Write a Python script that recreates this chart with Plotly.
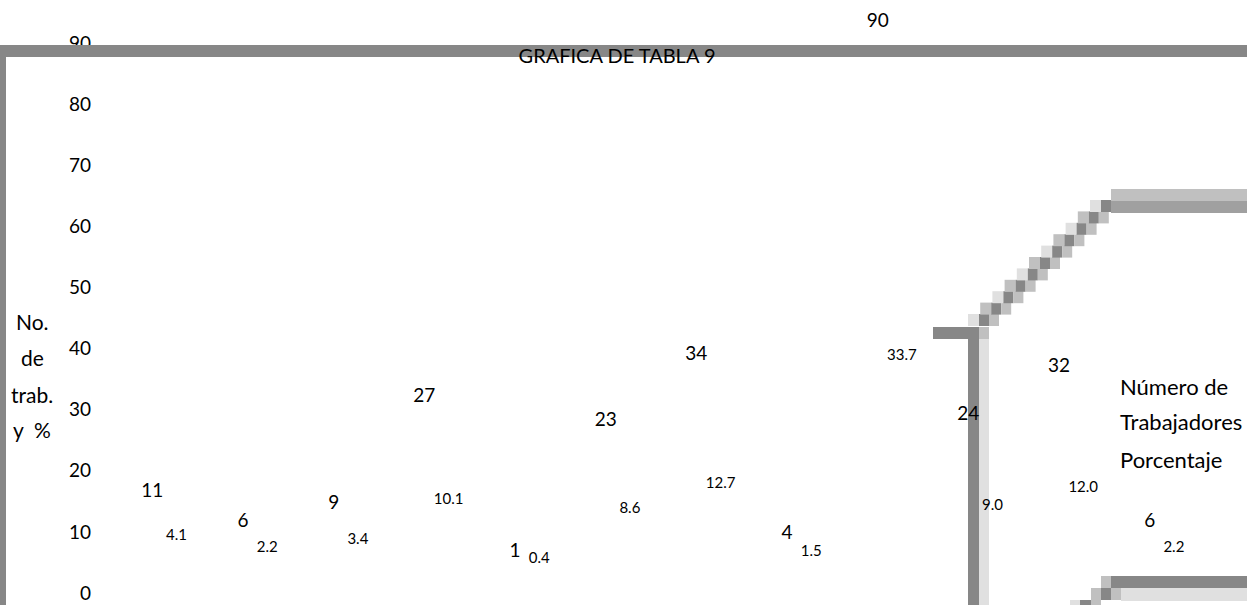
import plotly.graph_objects as go

# ---- data ----
categorias = list(range(1, 13))
trabajadores = [11, 6, 9, 27, 1, 23, 34, 4, 90, 24, 32, 6]
porcentaje = [4.1, 2.2, 3.4, 10.1, 0.4, 8.6, 12.7, 1.5, 33.7, 9.0, 12.0, 2.2]
y_ticks = [0, 10, 20, 30, 40, 50, 60, 70, 80, 90]

# ---- page geometry (pixels) ----
W, H = 1247, 605
ML, MR, MT, MB = 119, 40, 0, 12
PW, PH = W - ML - MR, H - MT - MB
BASE = H - MB          # pixel row of the value axis zero
TOP90 = 43             # pixel row of the 90 tick
UNIT = (BASE - TOP90) / 90.0

FONT = "Lato, Open Sans, sans-serif"
DARK, MID, LIGHT_MID, LIGHT = "#878787", "#a0a0a0", "#c0c0c0", "#e0e0e0"


def px(x):
    return (x - ML) / PW


def py(y):
    return (H - MB - y) / PH


def label_range(zero_row, px_per_unit):
    """Range for a hidden label axis whose zero sits on pixel row zero_row."""
    lo = -(BASE - zero_row) / px_per_unit
    return [lo, lo + PH / px_per_unit]


pos = [c - 1 for c in categorias]

fig = go.Figure()

# bars (unfilled, as in the printed chart)
fig.add_trace(go.Bar(x=pos, y=trabajadores, name="Número de Trabajadores",
                     marker=dict(color="rgba(0,0,0,0)", line=dict(width=0)),
                     showlegend=False, hoverinfo="skip"))
fig.add_trace(go.Bar(x=pos, y=porcentaje, name="Porcentaje",
                     marker=dict(color="rgba(0,0,0,0)", line=dict(width=0)),
                     showlegend=False, hoverinfo="skip"))

# data labels, placed on their own label scales
fig.add_trace(go.Scatter(x=[p - 0.132 for p in pos], y=trabajadores, yaxis="y2",
                         mode="text", text=[str(v) for v in trabajadores],
                         textposition="middle center", cliponaxis=False,
                         textfont=dict(family=FONT, size=19, color="#000"),
                         showlegend=False, hoverinfo="skip"))
fig.add_trace(go.Scatter(x=[p + 0.135 for p in pos], y=porcentaje, yaxis="y3",
                         mode="text", text=[f"{v:.1f}" for v in porcentaje],
                         textposition="middle center", cliponaxis=False,
                         textfont=dict(family=FONT, size=15, color="#000"),
                         showlegend=False, hoverinfo="skip"))

shapes = []


def rect(x0, y0, x1, y1, color, layer="below"):
    shapes.append(dict(type="rect", xref="paper", yref="paper",
                       x0=px(x0), x1=px(x1), y0=py(y1), y1=py(y0),
                       fillcolor=color, line=dict(width=0), layer=layer))


# frame: top band (over the axis labels) and left band
rect(0, 45, W, 57, DARK, layer="above")
rect(0, 45, 6, H, DARK)

# right-hand box edge: corner, vertical edge and stepped diagonal
rect(933, 327, 979, 339, DARK)
rect(968, 327, 979, H, DARK)
rect(979, 339, 989, H, LIGHT)
rect(979, 327, 989, 339, LIGHT_MID)
for k in range(11):
    top = 314 - 11.4 * k
    xd = 979 + 12.2 * k
    rect(xd - 11, top, xd, top + 12, LIGHT if k % 2 == 0 else LIGHT_MID)
    rect(xd, top, xd + 10, top + 12, DARK)
    rect(xd + 10, top, xd + 20, top + 12, LIGHT_MID)
rect(1111, 189, W, 201, LIGHT_MID)
rect(1111, 201, W, 213, MID)

# lower right box edge
rect(1101, 576, 1111, 588, LIGHT_MID)
rect(1111, 576, W, 588, DARK)
rect(1091, 588, 1101, 600, LIGHT_MID)
rect(1101, 588, 1111, 600, DARK)
rect(1111, 588, 1121, 600, LIGHT_MID)
rect(1121, 588, W, 601, LIGHT)
rect(1070, 600, 1080, H, LIGHT)
rect(1080, 600, 1091, H, DARK)
rect(1091, 600, 1101, H, LIGHT_MID)

annotations = []


def label(text, x, y, size=21, anchor="center"):
    annotations.append(dict(text=text, x=px(x), y=py(y), xref="paper", yref="paper",
                            xanchor=anchor, yanchor="middle", showarrow=False,
                            font=dict(family=FONT, size=size, color="#000")))


# y-axis title
for t, y in [("No.", 321), ("de", 357), ("trab.", 394), ("y\u00a0\u00a0%", 430)]:
    label(t, 32, y)

# legend text
for t, y in [("Número de", 386), ("Trabajadores", 422), ("Porcentaje", 459)]:
    label(t, 1118, y, size=22, anchor="left")

fig.update_layout(
    width=W, height=H,
    margin=dict(l=ML, r=MR, t=MT, b=MB),
    paper_bgcolor="white", plot_bgcolor="white",
    barmode="group", bargap=0.45, bargroupgap=0,
    title=dict(text="GRAFICA DE TABLA 9", x=617 / W, y=1 - 56 / H,
               xanchor="center", yanchor="middle",
               font=dict(family=FONT, size=20, color="#000")),
    xaxis=dict(range=[-0.5, 11.5], showticklabels=False, showgrid=False,
               zeroline=False, showline=False, ticks="", automargin=False),
    yaxis=dict(range=[0, PH / UNIT], tickvals=y_ticks, showgrid=False, zeroline=False,
               showline=False, ticks="", ticklabelstandoff=27,
               ticklabeloverflow="allow", automargin=False,
               tickfont=dict(family=FONT, size=19, color="#000")),
    yaxis2=dict(range=label_range(558, 5.955), overlaying="y", visible=False),
    yaxis3=dict(range=label_range(561.4, 6.096), overlaying="y", visible=False),
    shapes=shapes,
    annotations=annotations,
    showlegend=False,
)

fig.write_html("out.html")
